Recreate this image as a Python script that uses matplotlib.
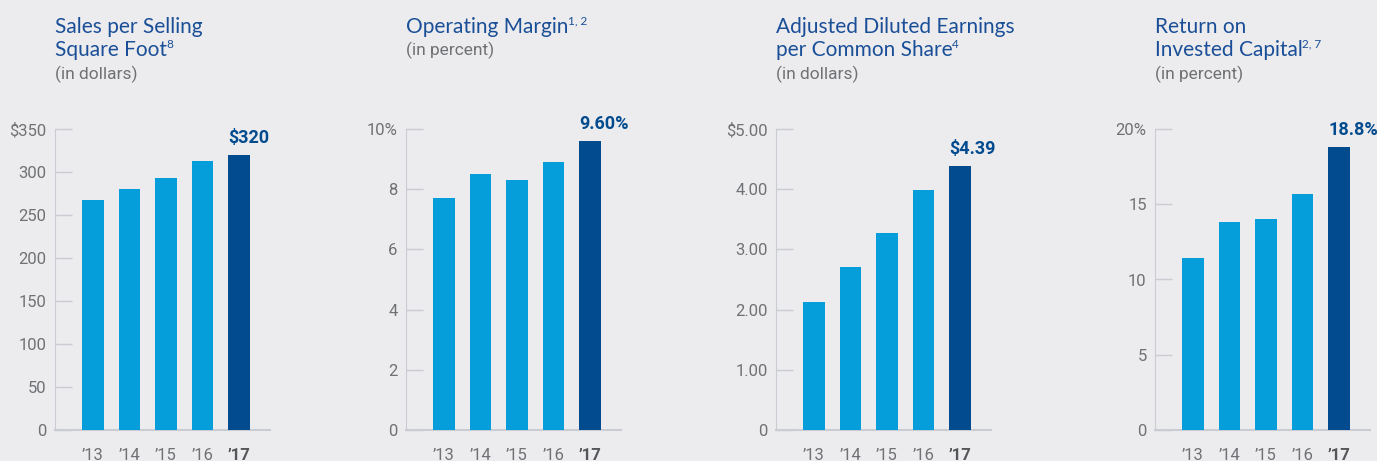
import numpy as np
import matplotlib
matplotlib.use('Agg')
import matplotlib.pyplot as plt

# data
years = ['’13', '’14', '’15', '’16', '’17']
sales_sqft = [268, 280, 293, 313, 320]
op_margin = [7.7, 8.5, 8.3, 8.9, 9.6]
adj_eps = [2.13, 2.70, 3.28, 3.98, 4.39]
roic = [11.4, 13.8, 14.0, 15.7, 18.8]

titles = [['Sales per Selling', 'Square Foot'],
          ['Operating Margin'],
          ['Adjusted Diluted Earnings', 'per Common Share'],
          ['Return on', 'Invested Capital']]
footnotes = ['8', '1, 2', '4', '2, 7']
subtitles = ['(in dollars)', '(in percent)', '(in dollars)', '(in percent)']
value_labels = ['$320', '9.60%', '$4.39', '18.8%']
yticks = [[0, 50, 100, 150, 200, 250, 300, 350],
          [0, 2, 4, 6, 8, 10],
          [0, 1, 2, 3, 4, 5],
          [0, 5, 10, 15, 20]]
ytick_labels = [['0', '50', '100', '150', '200', '250', '300', '$350'],
                ['0', '2', '4', '6', '8', '10%'],
                ['0', '1.00', '2.00', '3.00', '4.00', '$5.00'],
                ['0', '5', '10', '15', '20%']]
series = [sales_sqft, op_margin, adj_eps, roic]

bg = '#ececee'
light = '#069ddb'
dark = '#034b8f'
title_blue = '#1a4f98'
gray = '#707174'
line_gray = '#c9cdd3'

W, H = 1377, 461
fig = plt.figure(figsize=(W / 100, H / 100), dpi=100, facecolor=bg)
renderer = fig.canvas.get_renderer()

lefts = [55, 406, 776, 1155]
ax_w = 215
top_px, zero_px = 129, 430

for i in range(4):
    ax = fig.add_axes([lefts[i] / W, (H - zero_px) / H, ax_w / W, (zero_px - top_px) / H])
    ax.set_facecolor(bg)
    x = np.arange(5)
    colors = [light] * 4 + [dark]
    ax.bar(x, series[i], width=0.6, color=colors, zorder=3)
    ax.set_xlim(-1.04, 4.85)
    ax.set_ylim(yticks[i][0], yticks[i][-1])
    ax.set_yticks(yticks[i])
    ax.set_yticklabels(ytick_labels[i], fontfamily='Roboto',
                       fontsize=12, color=gray)
    ax.tick_params(axis='y', direction='in', length=12, width=1, color=line_gray, pad=6)
    ax.set_xticks(x)
    ax.set_xticklabels(years, fontfamily='Roboto', fontsize=12, color=gray)
    ax.get_xticklabels()[-1].set_fontweight('bold')
    ax.get_xticklabels()[-1].set_color('#555659')
    ax.tick_params(axis='x', length=0, pad=13)
    for s in ['top', 'right']:
        ax.spines[s].set_visible(False)
    ax.spines['left'].set_color(line_gray)
    ax.spines['bottom'].set_color(line_gray)
    ax.spines['bottom'].set_linewidth(1.5)

    # value label on the last bar
    ax.annotate(value_labels[i], xy=(4 - 0.3, series[i][-1]), xytext=(0, 12.2),
                textcoords='offset points', ha='left', va='center',
                fontfamily='Roboto', fontweight='bold', fontsize=13, color=dark)

    # titles, one line at a time, footnote mark after the last line
    base = 33
    for line in titles[i]:
        t = fig.text(lefts[i] / W, 1 - base / H, line, ha='left', va='baseline',
                     fontfamily='Lato', fontsize=15, color=title_blue)
        base += 23.5
    bb = t.get_window_extent(renderer)
    fig.text((bb.x1 - 0.5) / W, 1 - (base - 23.5 - 9) / H, footnotes[i], ha='left',
             va='baseline', fontfamily='Lato', fontsize=8.5, color=title_blue)
    fig.text(lefts[i] / W, 1 - (base - 1) / H, subtitles[i], ha='left', va='baseline',
             fontfamily='Roboto', fontsize=12.5, color=gray)

fig.savefig('out.png', dpi=100, facecolor=bg)
